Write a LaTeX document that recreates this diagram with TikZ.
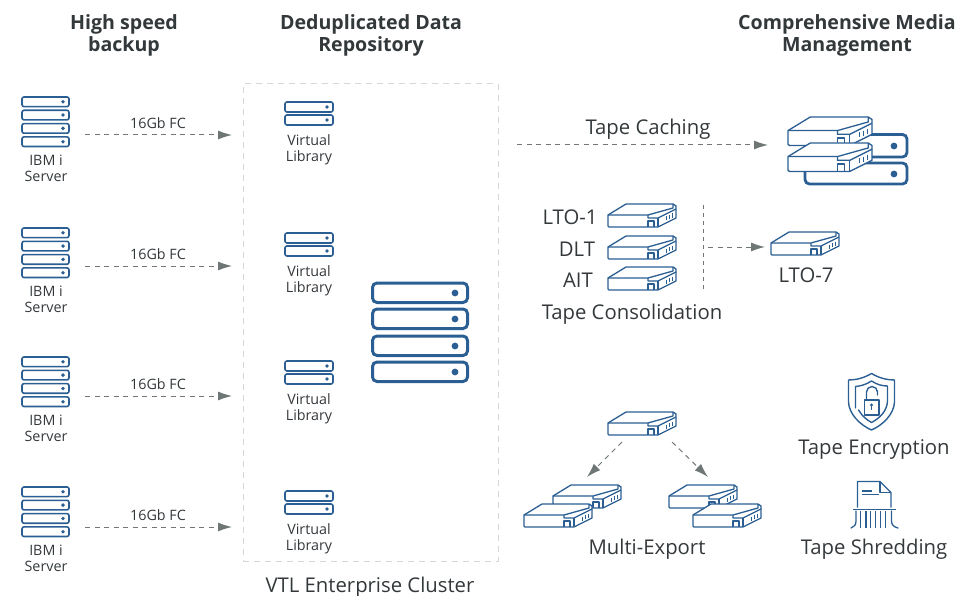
\documentclass[tikz,border=0pt]{standalone}
\usepackage{fontspec}
\setmainfont{Open Sans}
\usetikzlibrary{arrows.meta}
\definecolor{iconblue}{HTML}{2B5F93}
\definecolor{txt}{HTML}{33383B}
\definecolor{arrowgray}{HTML}{6E7676}
\definecolor{boxgray}{HTML}{D2D9DC}
\tikzset{
  smalllbl/.style={text=txt,font=\fontsize{14.3}{16}\selectfont,align=center,inner sep=0pt},
  biglbl/.style={text=txt,font=\fontsize{20.3}{22}\selectfont,align=center,inner sep=0pt},
  head/.style={text=txt,font=\fontsize{19.6}{22}\selectfont\bfseries,align=center,inner sep=0pt},
  flow/.style={draw=arrowgray,line width=1pt,dash pattern=on 5pt off 4.5pt,-{Latex[length=14pt,width=9pt,fill=arrowgray]}},
  rack/.style={draw=iconblue,line width=1.6pt,rounded corners=2pt,fill=white},
  bigrack/.style={draw=iconblue,line width=3pt,rounded corners=4.5pt,fill=white},
  driveline/.style={draw=iconblue,line width=1.3pt,line join=round},
}
% drive icon: top-left (#1,#2), scale #3
\newcommand{\drive}[3]{%
  \begin{scope}[shift={(#1,#2)},scale=#3]
    \path[driveline,fill=white] (0,11) -- (18,0) -- (65,0) -- (68,2) -- (68,14) -- (50,23) -- (1,23) -- (0,22) -- cycle;
    \draw[driveline] (0,11) -- (40,11) -- (65,4) -- (65,0);
    \draw[driveline] (40,11) -- (40,14) -- (50,14) -- (68,5);
    \draw[driveline] (50,14) -- (50,23);
    \draw[driveline] (40,23) -- (40,17) -- (46,17) -- (46,23);
    \draw[driveline,line width=0.9pt] (61,11) -- (61,15) (64,9.5) -- (64,14) (58,12.5) -- (58,16.5);
  \end{scope}}
\newcommand{\racktwo}[2]{%
  \begin{scope}[shift={(#1,#2)}]
    \foreach \r in {0,1}{
      \draw[rack] (0,13*\r) rectangle ++(48,10);
      \fill[iconblue] (42,13*\r+5) circle (1.9);
    }
  \end{scope}}
\newcommand{\rackfour}[2]{%
  \begin{scope}[shift={(#1,#2)}]
    \foreach \r in {0,1,2,3}{
      \draw[rack] (0,13.3*\r) rectangle ++(47,9.6);
      \fill[iconblue] (41,13.3*\r+4.8) circle (1.9);
    }
  \end{scope}}
\begin{document}
\begin{tikzpicture}[x=1pt,y=-1pt]
\useasboundingbox (0,0) rectangle (969,596);
% headings
\node[head] (h1) at (124,35) {High speed\\backup};
\node[head] (h2) at (371,35) {Deduplicated Data\\Repository};
\node[head] (h3) at (847,35) {Comprehensive Media\\Management};
% cluster box
\node[draw=boxgray,line width=1pt,dash pattern=on 6pt off 5pt,minimum width=255pt,minimum height=477pt,inner sep=0pt] (cluster) at (370.5,322.5) {};
\node[biglbl] (clusterlbl) at (370,587.5) {VTL Enterprise Cluster};
% server columns
\foreach \i/\ys/\yv/\ya in {1/97/102/135,2/228/233/266,3/357/361/396,4/487/491/527}{
  \rackfour{22}{\ys}
  \node[smalllbl] (srv\i) at (46,\ys+71) {IBM i\\Server};
  \racktwo{285}{\yv}
  \node[smalllbl] (vl\i) at (309,\yv+48) {Virtual\\Library};
  \coordinate (a\i) at (85,\ya);
  \coordinate (b\i) at (232,\ya);
  \draw[flow] (a\i) -- (b\i);
  \node[smalllbl] (fc\i) at (158,\ya-12) {16Gb FC};
}
% big rack
\foreach \y in {283,309,336,362}{
  \draw[bigrack] (372.5,\y) rectangle (467.5,\y+19.5);
  \fill[iconblue] (455,\y+10) circle (3.4);
}
% tape caching
\coordinate (c1) at (517,145);
\coordinate (c2) at (768,145);
\draw[flow] (c1) -- (c2);
\node[biglbl] (tc) at (648,129) {Tape Caching};
\draw[bigrack,line width=2.8pt] (805,134.5) rectangle (907,157);
\draw[bigrack,line width=2.8pt] (805,163) rectangle (907,184);
\fill[iconblue] (894,146) circle (3.4);
\fill[iconblue] (894,174) circle (3.4);
\drive{788}{117}{1.235}
\drive{788}{143}{1.235}
% consolidation
\node[biglbl] (l1) at (570,217) {LTO-1};
\node[biglbl] (l2) at (577,249) {DLT};
\node[biglbl] (l3) at (578,280) {AIT};
\drive{608}{204}{1}
\drive{608}{236}{1}
\drive{608}{267}{1}
\coordinate (v1) at (703,205);
\coordinate (v2) at (703,290);
\draw[draw=arrowgray,line width=1pt,dash pattern=on 4pt off 4pt] (v1) -- (v2);
\coordinate (e1) at (708,247);
\coordinate (e2) at (765,247);
\draw[flow] (e1) -- (e2);
\drive{771}{232}{1}
\node[biglbl] (l7) at (806,275) {LTO-7};
\node[biglbl] (cons) at (632,314) {Tape Consolidation};
% multi-export
\drive{608}{412}{1}
\coordinate (m0) at (622,442);
\coordinate (m1) at (587,477);
\coordinate (n0) at (672,442);
\coordinate (n1) at (708,477);
\draw[flow] (m0) -- (m1);
\draw[flow] (n0) -- (n1);
\drive{553}{485}{1}
\drive{524}{504}{1}
\drive{669}{485}{1}
\drive{693}{504}{1}
\node[biglbl] (me) at (647,549) {Multi-Export};
% shield
\draw[iconblue,line width=1.4pt,line cap=round,line join=round]
  (871.5,373.5) .. controls (864,378) and (856,380) .. (848.5,380)
  -- (848.5,402) .. controls (849,414) and (860,425) .. (871.5,430)
  .. controls (883,425) and (894,414) .. (894.5,402) -- (894.5,380)
  .. controls (887,380) and (879,378) .. (871.5,373.5) -- cycle;
\draw[iconblue,line width=1.4pt,line cap=round,line join=round]
  (855.5,408) -- (855.5,386.5) .. controls (861,386) and (866,384.5) .. (871.5,381)
  .. controls (877,384.5) and (882,386) .. (887.5,386)
  -- (887.5,401) .. controls (887,411) and (880,418) .. (871.5,422.5)
  .. controls (867,420) and (862,416) .. (858.5,410);
\draw[iconblue,line width=1.4pt,line join=round] (864.5,400) rectangle (879,415);
\draw[iconblue,line width=1.4pt,line cap=round] (866.5,400) -- (866.5,392) arc[start angle=180,end angle=360,radius=5.5] -- (877.5,395);
\fill[iconblue] (871.5,405) circle (1.6);
\draw[iconblue,line width=0.9pt] (871.5,405) -- (871.5,410);
\node[biglbl] (enc) at (874,449) {Tape Encryption};
% shredder
\draw[iconblue,line width=1.4pt,line join=round]
  (857.5,507.5) -- (857.5,481.5) -- (880,481.5) -- (891,492.5) -- (891,507.5);
\draw[iconblue,line width=1.4pt,line join=round] (880,481.5) -- (880,492.5) -- (891,492.5);
\draw[iconblue,line width=1.4pt] (862,491) -- (872,491) (862,494.5) -- (879,494.5);
\draw[iconblue,line width=1.4pt] (852.5,509.5) -- (895.5,509.5);
\foreach \x in {860.5,866,870.7,875.7,880.7,885.7}{
  \draw[iconblue,line width=1.3pt] (\x,511) -- (\x,528);
}
\draw[iconblue,line width=1.3pt,line cap=round] (856,511) -- (856,521) .. controls (856,525) and (854,527) .. (851,528);
\draw[iconblue,line width=1.3pt,line cap=round] (891.5,511) -- (891.5,521) .. controls (891.5,525) and (894,527) .. (898,528);
\node[biglbl] (shr) at (874,549) {Tape Shredding};
\end{tikzpicture}
\end{document}
